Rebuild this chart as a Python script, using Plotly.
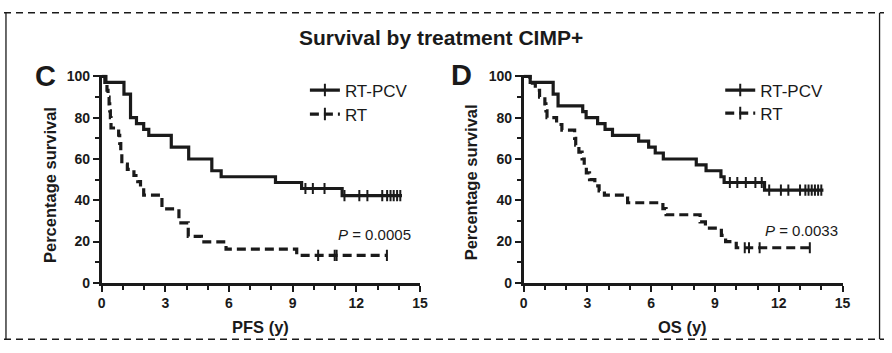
import plotly.graph_objects as go

W, H = 892, 353

# ---------------- data ----------------
# PFS, RT-PCV (solid)
pfs_pcv_t = [0.15, 1.05, 1.36, 1.64, 1.98, 2.22, 3.28, 4.10, 5.19, 5.63, 8.19, 9.42, 11.33]
pfs_pcv_s = [97.1, 91.4, 80.0, 77.1, 74.3, 71.4, 65.7, 60.0, 54.3, 51.4, 48.6, 45.7, 42.3]
pfs_pcv_end = 14.15
pfs_pcv_cens = [9.6, 9.95, 10.5, 11.44, 12.14, 12.52, 13.22, 13.45, 13.61, 13.76, 13.92, 14.07]

# PFS, RT (dashed)
pfs_rt_t = [0.20, 0.25, 0.30, 0.35, 0.38, 0.41, 0.44, 0.80, 0.85, 0.90, 0.95, 1.21, 1.52,
            1.70, 1.83, 1.98, 2.84, 3.64, 4.08, 4.70, 5.86, 9.19]
pfs_rt_s = [96.7, 93.3, 90.0, 86.7, 83.3, 80.0, 75.0, 71.5, 67.5, 63.5, 57.5, 55.0, 52.0,
            49.0, 46.0, 42.5, 35.8, 29.1, 22.5, 19.9, 16.3, 13.3]
pfs_rt_end = 13.44
pfs_rt_cens = [10.2, 10.98, 11.07, 13.44]

# OS, RT-PCV (solid)
os_pcv_t = [0.31, 1.39, 1.62, 2.78, 2.94, 3.48, 3.83, 4.18, 5.41, 5.88, 6.19, 6.57,
            8.12, 8.58, 9.28, 9.43, 11.33]
os_pcv_s = [97.1, 91.4, 85.7, 82.9, 80.0, 77.1, 74.3, 71.4, 68.6, 65.7, 62.9, 60.0,
            57.1, 54.3, 51.4, 48.6, 44.9]
os_pcv_end = 14.1
os_pcv_cens = [9.7, 10.05, 10.45, 10.9, 11.2, 11.55, 12.1, 12.45, 13.0, 13.25, 13.4,
               13.55, 13.7, 13.85, 14.0]

# OS, RT (dashed)
os_rt_t = [0.30, 0.55, 0.75, 1.00, 1.05, 1.10, 1.55, 1.80, 2.40, 2.45, 2.60, 2.75, 2.85,
           2.95, 3.10, 3.35, 3.55, 3.80, 4.89, 6.55, 6.70, 8.30, 8.55, 9.30, 9.50, 10.0]
os_rt_s = [96.7, 93.3, 90.0, 86.7, 83.3, 80.0, 76.7, 74.0, 70.0, 66.7, 63.3, 60.0, 56.7,
           53.3, 50.0, 47.0, 44.5, 42.5, 38.8, 36.0, 33.0, 29.5, 26.5, 23.0, 20.0, 17.0]
os_rt_end = 13.46
os_rt_cens = [10.4, 10.6, 11.1, 13.46]

x_ticks = [0, 3, 6, 9, 12, 15]
y_ticks = [0, 20, 40, 60, 80, 100]
series_names = ["RT-PCV", "RT"]
p_values = ["0.0005", "0.0033"]
x_titles = ["PFS (y)", "OS (y)"]
panel_letters = ["C", "D"]
title_text = "Survival by treatment CIMP+"

# ---------------- helpers ----------------
def px(x):
    return x / W

def py(y):
    return 1 - y / H

def step_xy(t, s, end):
    return [0] + list(t) + [end], [100] + list(s) + [s[-1]]

def surv_at(t, s, c):
    v = 100
    for ti, si in zip(t, s):
        if ti <= c:
            v = si
    return v

INK = "#1a1a1a"
LW = 3.2
DASH = "9px,5px"
FONT = "Arial, Liberation Sans, sans-serif"

fig = go.Figure()

panels = [
    ("x", "y", [(pfs_pcv_t, pfs_pcv_s, pfs_pcv_end, pfs_pcv_cens, "solid"),
                (pfs_rt_t, pfs_rt_s, pfs_rt_end, pfs_rt_cens, DASH)]),
    ("x2", "y2", [(os_pcv_t, os_pcv_s, os_pcv_end, os_pcv_cens, "solid"),
                  (os_rt_t, os_rt_s, os_rt_end, os_rt_cens, DASH)]),
]

for xa, ya, curves in panels:
    for t, s, end, cens, dash in curves:
        xs, ys = step_xy(t, s, end)
        fig.add_trace(go.Scatter(x=xs, y=ys, xaxis=xa, yaxis=ya, mode="lines",
                                 line=dict(color=INK, width=LW, dash=dash, shape="hv"),
                                 showlegend=False, hoverinfo="skip"))
        fig.add_trace(go.Scatter(x=cens, y=[surv_at(t, s, c) for c in cens],
                                 xaxis=xa, yaxis=ya, mode="markers",
                                 marker=dict(symbol="line-ns-open", size=8, color=INK,
                                             line=dict(color=INK, width=2)),
                                 showlegend=False, hoverinfo="skip"))

# legend-only traces (one legend per entry for exact placement)
legend_ids = ["legend", "legend2", "legend3", "legend4"]
dashes = ["solid", DASH, "solid", DASH]
for i, lid in enumerate(legend_ids):
    fig.add_trace(go.Scatter(x=[None], y=[None], xaxis="x" if i < 2 else "x2",
                             yaxis="y" if i < 2 else "y2",
                             mode="lines+markers", name=series_names[i % 2],
                             line=dict(color=INK, width=LW, dash=dashes[i]),
                             marker=dict(symbol="line-ns-open", size=9, color=INK,
                                         line=dict(color=INK, width=2)),
                             legend=lid, showlegend=True))

legend_pos = [(305, 88), (305, 113), (726, 88), (726, 112)]
leg_layout = {}
for lid, (lx, ly) in zip(legend_ids, legend_pos):
    leg_layout[lid] = dict(x=px(lx), y=py(ly), xanchor="left", yanchor="middle",
                           bgcolor="rgba(0,0,0,0)", borderwidth=0,
                           font=dict(family=FONT, size=17, color=INK),
                           itemwidth=30, tracegroupgap=0)

y_lo, y_hi = 0, 100.8
y_dom = [py(288.3), py(288.3 - y_hi * 2.15)]

def xaxis_cfg(dom, anchor):
    return dict(domain=dom, range=[0, 15], anchor=anchor, tickvals=x_ticks,
                showline=True, linewidth=2.5, linecolor=INK, ticks="outside",
                ticklen=6, tickwidth=2, tickcolor=INK,
                minor=dict(dtick=1, tick0=0, ticks="outside", ticklen=4,
                           tickwidth=2, tickcolor=INK, showgrid=False),
                showgrid=False, zeroline=False,
                tickfont=dict(family=FONT, size=14, color=INK, weight="bold"))

def yaxis_cfg(anchor):
    return dict(domain=y_dom, range=[y_lo, y_hi], anchor=anchor, tickvals=y_ticks,
                showline=True, linewidth=2.5, linecolor=INK, ticks="outside",
                ticklen=6, tickwidth=2, tickcolor=INK,
                minor=dict(dtick=10, tick0=0, ticks="outside", ticklen=4,
                           tickwidth=2, tickcolor=INK, showgrid=False),
                showgrid=False, zeroline=False,
                tickfont=dict(family=FONT, size=14, color=INK, weight="bold"))

annotations = [
    dict(x=px(443), y=py(33), text=title_text, font=dict(family=FONT, size=21, color=INK, weight="bold")),
    dict(x=px(42), y=py(73), text=panel_letters[0], font=dict(family=FONT, size=29, color=INK, weight="bold")),
    dict(x=px(464), y=py(72), text=panel_letters[1], font=dict(family=FONT, size=29, color=INK, weight="bold")),
    dict(x=px(46), y=py(186), text="Percentage survival", textangle=-90,
         font=dict(family=FONT, size=16.5, color=INK, weight="bold")),
    dict(x=px(473), y=py(184), text="Percentage survival", textangle=-90,
         font=dict(family=FONT, size=16.5, color=INK, weight="bold")),
    dict(x=px(260), y=py(334), text=x_titles[0], font=dict(family=FONT, size=16.5, color=INK, weight="bold")),
    dict(x=px(688), y=py(334), text=x_titles[1], font=dict(family=FONT, size=16.5, color=INK, weight="bold")),
    dict(x=px(376), y=py(238), text="<i>P</i> = " + p_values[0], font=dict(family=FONT, size=15, color=INK)),
    dict(x=px(808), y=py(234), text="<i>P</i> = " + p_values[1], font=dict(family=FONT, size=15, color=INK)),
]
for a in annotations:
    a.update(xref="paper", yref="paper", showarrow=False, xanchor="center", yanchor="middle")

shapes = [
    dict(type="line", xref="paper", yref="paper", x0=0, x1=1, y0=py(7), y1=py(7),
         line=dict(color=INK, width=1.5, dash="7px,5px")),
    dict(type="line", xref="paper", yref="paper", x0=0, x1=1, y0=py(347), y1=py(347),
         line=dict(color=INK, width=1.5, dash="7px,5px")),
    dict(type="line", xref="paper", yref="paper", x0=px(2), x1=px(2), y0=py(7), y1=py(347),
         line=dict(color=INK, width=1.3)),
    dict(type="line", xref="paper", yref="paper", x0=px(887.5), x1=px(887.5), y0=py(7), y1=py(347),
         line=dict(color=INK, width=1.3)),
]

fig.update_layout(
    width=W, height=H, margin=dict(l=0, r=0, t=0, b=0),
    paper_bgcolor="white", plot_bgcolor="white",
    xaxis=xaxis_cfg([px(99), px(421.7)], "y"),
    yaxis=yaxis_cfg("x"),
    xaxis2=xaxis_cfg([px(526.7), px(850)], "y2"),
    yaxis2=yaxis_cfg("x2"),
    annotations=annotations, shapes=shapes,
    **leg_layout,
)

fig.write_html("out.html")
